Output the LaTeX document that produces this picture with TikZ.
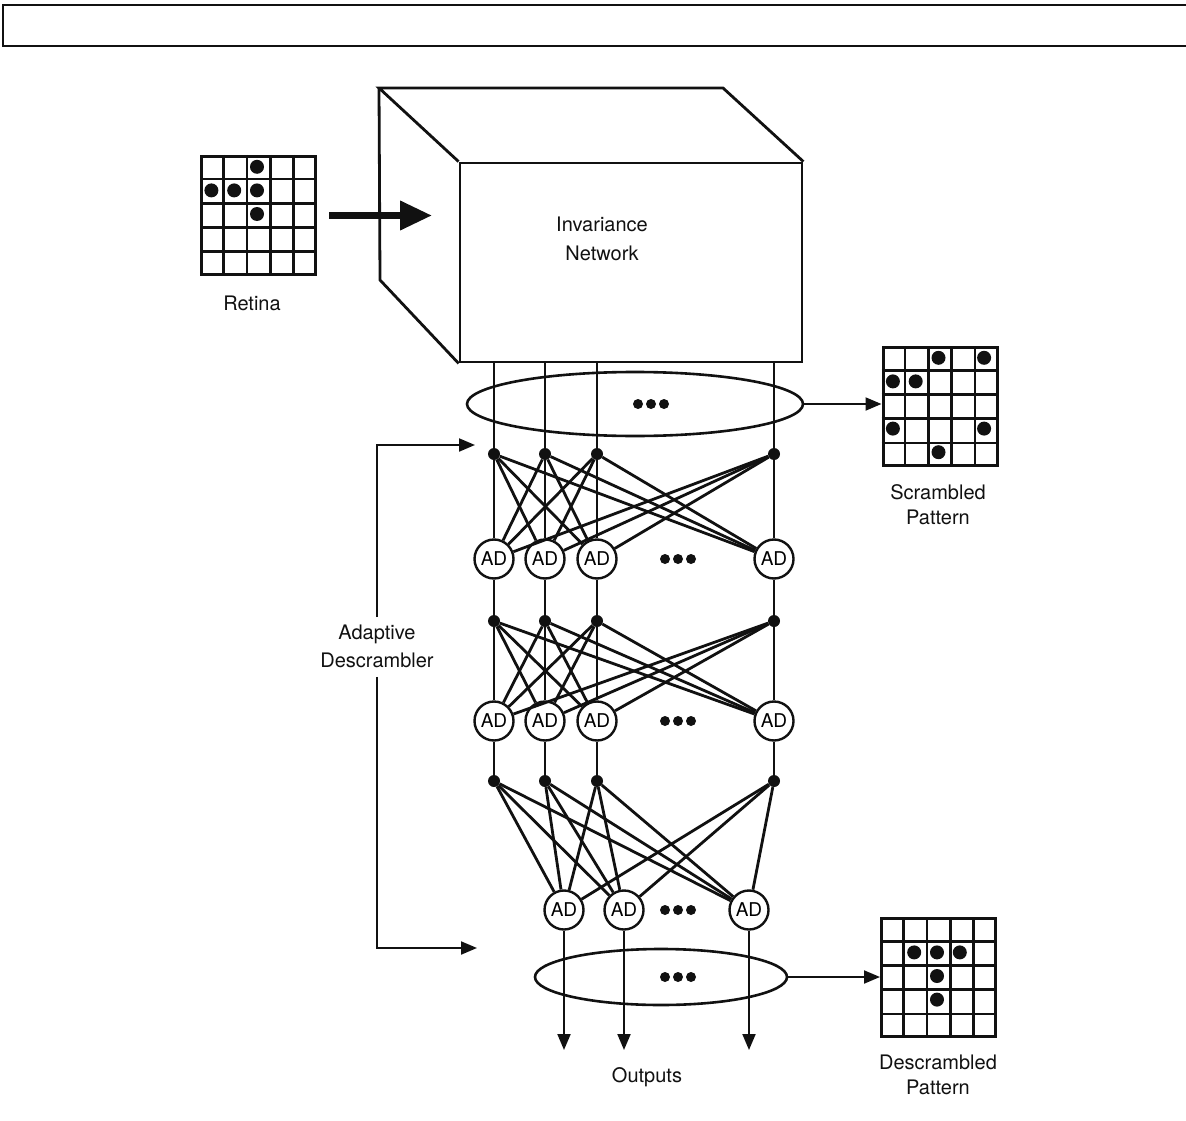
\documentclass[tikz,border=0pt]{standalone}
\usepackage{fontspec}
\setmainfont{TeX Gyre Heros}
\usetikzlibrary{arrows.meta, positioning, shapes.geometric, calc}
\definecolor{ink}{HTML}{111111}
\tikzset{
  frame-line/.style={draw=ink, line width=2pt},
  box-line/.style={draw=ink, line width=2.8pt, line join=miter},
  grid-box/.style={rectangle, draw=ink, line width=3pt,
    minimum width=114pt, minimum height=118pt, inner sep=0pt},
  grid-line/.style={draw=ink, line width=2.6pt},
  jn-dot/.style={circle, fill=ink, minimum size=12pt, inner sep=0pt},
  ad-unit/.style={circle, draw=ink, fill=white, line width=2.4pt,
    minimum size=39pt, inner sep=0pt, font=\fontsize{19}{22}\selectfont},
  wire/.style={draw=ink, line width=2pt},
  link/.style={draw=ink, line width=2.8pt},
  set-ring/.style={ellipse, draw=ink, line width=2.6pt, inner sep=0pt},
  feed-arrow/.style={-{Triangle[length=16pt, width=13pt]}, draw=ink, line width=2pt},
  big-arrow/.style={-{Triangle[length=32pt, width=28pt]}, draw=ink, line width=7pt},
  label-text/.style={font=\fontsize{20}{25}\selectfont, align=center, text=ink}
}
% 5x5 pattern: name, centre, dots as row/col
\newcommand{\pixpattern}[3]{%
  \node[grid-box] (#1) at (#2) {};
  \foreach \k in {1,...,4} {
    \draw[grid-line] ($(#1.north west)!\k/5!(#1.north east)$) -- ($(#1.south west)!\k/5!(#1.south east)$);
    \draw[grid-line] ($(#1.north west)!\k/5!(#1.south west)$) -- ($(#1.north east)!\k/5!(#1.south east)$);
  }
  \foreach \rw/\cl in {#3}
    \fill[ink] ($(#1.north west)+(\cl*22.8+11.4, \rw*23.6+11.8)$) circle (7pt);
}

\begin{document}
\begin{tikzpicture}[x=1pt, y=-1pt]
  \useasboundingbox (0,0) rectangle (1186,1121);

  % Frame strip along the top
  \draw[frame-line] (1190,5) -- (3,5) -- (3,46) -- (1190,46);

  % Invariance network box
  \node[rectangle, box-line, minimum width=342pt, minimum height=199pt, inner sep=0pt]
    (invnet) at (631,262.5) {};
  \draw[box-line] (invnet.north west) -- (379,88) -- (723,88) -- (invnet.north east);
  \draw[box-line] (379,88) -- (380,280) -- (invnet.south west);
  \node[label-text, font=\fontsize{20}{29}\selectfont] (invtext) at (602,239) {Invariance\\Network};

  % Retina and input arrow
  \pixpattern{retina}{258.5,215.5}{0/2, 1/0, 1/1, 1/2, 2/2}
  \node[label-text] (retinatext) at (252,303) {Retina};
  \coordinate (inport) at (432,215.5);
  \draw[big-arrow, shorten <=12pt] (retina.east) -- (inport);

  % Units and junctions
  \foreach \i/\x in {1/494, 2/545, 3/597, 4/774} {
    \node[jn-dot] (ja\i) at (\x,454) {};
    \node[ad-unit] (aa\i) at (\x,559) {AD};
    \node[jn-dot] (jb\i) at (\x,621) {};
    \node[ad-unit] (ab\i) at (\x,721) {AD};
    \node[jn-dot] (jc\i) at (\x,781) {};
  }
  \foreach \i/\x in {1/564, 2/624, 3/749}
    \node[ad-unit] (ac\i) at (\x,910) {AD};

  % Vertical wires
  \foreach \i in {1,...,4} {
    \draw[wire] (invnet.south -| ja\i) -- (ja\i);
    \draw[wire] (aa\i) -- (jb\i);
    \draw[wire] (ab\i) -- (jc\i);
  }

  % Full connections between layers
  \foreach \i in {1,...,4} {
    \foreach \k in {1,...,4} {
      \draw[link] (ja\i) -- (aa\k);
      \draw[link] (jb\i) -- (ab\k);
    }
    \foreach \k in {1,2,3}
      \draw[link] (jc\i) -- (ac\k);
  }

  % Outputs
  \coordinate (outrow) at (0,1050);
  \foreach \i in {1,2,3}
    \draw[feed-arrow] (ac\i) -- (ac\i |- outrow);
  \node[label-text] (outtext) at (647,1077) {Outputs};

  % Ellipses and patterns
  \node[set-ring, minimum width=336pt, minimum height=64pt] (scrset) at (635,404) {};
  \node[set-ring, minimum width=252pt, minimum height=56pt] (desset) at (661,977) {};
  \pixpattern{scram}{940,406.5}{0/2, 0/4, 1/0, 1/1, 3/0, 3/4, 4/2}
  \pixpattern{descram}{938.5,977.5}{1/1, 1/2, 1/3, 2/2, 3/2}
  \draw[feed-arrow] (scrset.east) -- (scrset.east -| scram.west);
  \draw[feed-arrow] (desset.east) -- (desset.east -| descram.west);
  \node[label-text] (scramtext) at (938,505) {Scrambled\\Pattern};
  \node[label-text] (descramtext) at (938,1075) {Descrambled\\Pattern};

  % Ellipsis dots
  \foreach \px/\py in {651/404, 678/559, 678/721, 678/910, 678/977}
    \foreach \d in {-13,0,13}
      \fill[ink] (\px+\d,\py) circle (5pt);

  % Adaptive descrambler bracket
  \node[label-text, font=\fontsize{20}{28}\selectfont] (adtext) at (377,646) {Adaptive\\Descrambler};
  \coordinate (brtop) at (377,445);
  \coordinate (brtopend) at (475,445);
  \coordinate (brbot) at (377,948);
  \coordinate (brbotend) at (477,948);
  \draw[feed-arrow, shorten <=4pt] (adtext.north -| brtop) -- (brtop) -- (brtopend);
  \draw[feed-arrow, shorten <=6pt] (adtext.south -| brbot) -- (brbot) -- (brbotend);
\end{tikzpicture}
\end{document}
